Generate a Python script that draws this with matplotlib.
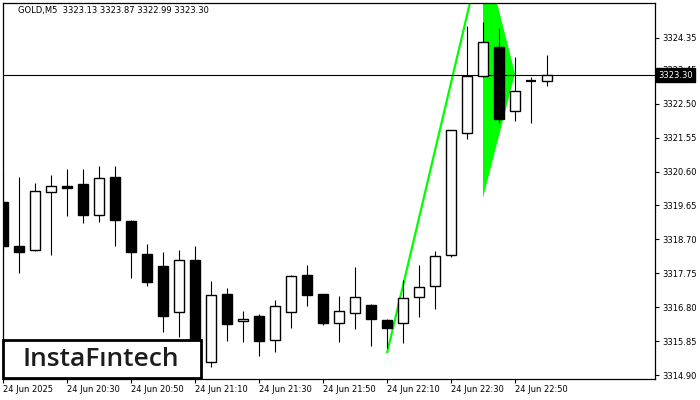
import matplotlib
matplotlib.use('Agg')
import matplotlib.pyplot as plt
import matplotlib.transforms as mtransforms
from matplotlib.patches import Rectangle, Polygon

# GOLD M5 candles, 24 Jun 2025 20:10 .. 23:00
opens = [3319.75, 3318.51, 3318.40, 3320.03, 3320.20, 3320.25, 3319.39, 3320.46, 3319.22, 3318.29,
         3317.95, 3316.66, 3318.12, 3315.26, 3317.17, 3316.40, 3316.55, 3315.87, 3316.67, 3317.70,
         3317.17, 3316.37, 3316.63, 3316.86, 3316.44, 3316.37, 3317.08, 3317.39, 3318.25, 3321.67,
         3323.27, 3324.08, 3322.29, 3323.14, 3323.13]
highs = [3320.53, 3320.45, 3320.28, 3320.50, 3320.67, 3320.67, 3320.76, 3320.76, 3319.24, 3318.57,
         3318.35, 3318.40, 3318.51, 3317.53, 3317.33, 3316.69, 3316.61, 3317.00, 3317.70, 3317.98,
         3317.17, 3317.11, 3317.92, 3316.88, 3316.47, 3317.56, 3317.98, 3318.37, 3321.76, 3324.68,
         3324.79, 3324.61, 3323.81, 3323.26, 3323.87]
lows = [3318.32, 3317.76, 3318.38, 3318.26, 3319.36, 3319.17, 3319.20, 3318.51, 3317.63, 3317.40,
        3316.10, 3315.97, 3315.18, 3315.13, 3315.86, 3315.83, 3315.44, 3315.55, 3316.23, 3316.84,
        3316.30, 3315.83, 3316.20, 3315.72, 3315.65, 3315.81, 3316.53, 3316.76, 3318.21, 3321.50,
        3323.24, 3321.97, 3322.03, 3321.97, 3322.99]
closes = [3318.51, 3318.35, 3320.06, 3320.20, 3320.15, 3319.38, 3320.42, 3319.24, 3318.35, 3317.51,
          3316.56, 3318.11, 3315.26, 3317.14, 3316.34, 3316.46, 3315.86, 3316.83, 3317.67, 3317.15,
          3316.37, 3316.68, 3317.08, 3316.48, 3316.23, 3317.05, 3317.36, 3318.23, 3321.76, 3323.28,
          3324.22, 3322.08, 3322.86, 3323.14, 3323.30]

time_ticks = [0, 4, 8, 12, 16, 20, 24, 28, 32]
time_labels = ['24 Jun 2025', '24 Jun 20:30', '24 Jun 20:50', '24 Jun 21:10', '24 Jun 21:30',
               '24 Jun 21:50', '24 Jun 22:10', '24 Jun 22:30', '24 Jun 22:50']
price_ticks = [3314.90, 3315.85, 3316.80, 3317.75, 3318.70, 3319.65, 3320.60, 3321.55,
               3322.50, 3323.45, 3324.35]

# bullish pennant: flagpole and triangle (candle index, price)
pole_x = [24, 30]
pole_y = [3315.51, 3326.87]
pennant_x = [30, 30, 32]
pennant_y = [3326.87, 3319.86, 3323.35]

last_price = 3323.30
title = 'GOLD,M5  3323.13 3323.87 3322.99 3323.30'

fig = plt.figure(figsize=(7, 4), dpi=100)
ax = fig.add_axes([2.5 / 700, 21 / 400, 652.5 / 700, 376.5 / 400])
ax.set_xlim(-0.03, 40.75)
ax.set_ylim(3314.788, 3325.337)

# pattern under the candles
ax.add_patch(Polygon(list(zip(pennant_x, pennant_y)), closed=True,
                     facecolor='#00ff00', edgecolor='none', zorder=1))
ax.plot(pole_x, pole_y, color='#00ff00', lw=1.6, zorder=1, solid_capstyle='butt')

ax.axhline(last_price, color='black', lw=0.8, zorder=2.5)

w = 0.66
for i in range(len(opens)):
    o, h, l, c = opens[i], highs[i], lows[i], closes[i]
    ax.vlines(i, l, h, color='black', lw=0.8, zorder=3)
    lo, hi = min(o, c), max(o, c)
    if hi - lo < 0.03:
        ax.hlines(o, i - w / 2, i + w / 2, color='black', lw=1.6, zorder=4)
        continue
    fc = 'white' if c > o else 'black'
    ax.add_patch(Rectangle((i - w / 2, lo), w, hi - lo, facecolor=fc,
                           edgecolor='black', lw=1.0, zorder=4))

for s in ax.spines.values():
    s.set_color('black')
    s.set_linewidth(0.9)

ax.yaxis.tick_right()
ax.set_yticks(price_ticks)
ax.set_yticklabels(['%.2f' % p for p in price_ticks])
ax.set_xticks(time_ticks)
ax.set_xticklabels(time_labels, ha='left')
ax.tick_params(axis='both', direction='out', length=3, width=0.8, color='black',
               labelsize=6.0, labelcolor='black', pad=1.5)
ax.tick_params(axis='y', pad=2)

# current price tag (sits over the 3323.45 label, as in the terminal)
trans = mtransforms.blended_transform_factory(ax.transAxes, ax.transData)
ax.text(1.005, last_price, '%.2f' % last_price, transform=trans, ha='left', va='center',
        color='white', fontsize=6.0, zorder=10, clip_on=False,
        bbox=dict(boxstyle='square,pad=0.3', facecolor='black', edgecolor='black'))

fig.text(18 / 700, 1 - 10 / 400, title, ha='left', va='center', fontsize=6.0, color='black')

# logo box
fig.add_artist(Rectangle((3 / 700, 22 / 400), 198 / 700, 38 / 400, transform=fig.transFigure,
                         facecolor='white', edgecolor='black', lw=2.0, zorder=20))
fig.text(101 / 700, 1 - 359 / 400, 'InstaF\u0131ntech', ha='center', va='center',
         fontsize=19, family='Open Sans', weight='semibold', color='#1c1c1c', zorder=21)

fig.savefig('out.png', dpi=100)
